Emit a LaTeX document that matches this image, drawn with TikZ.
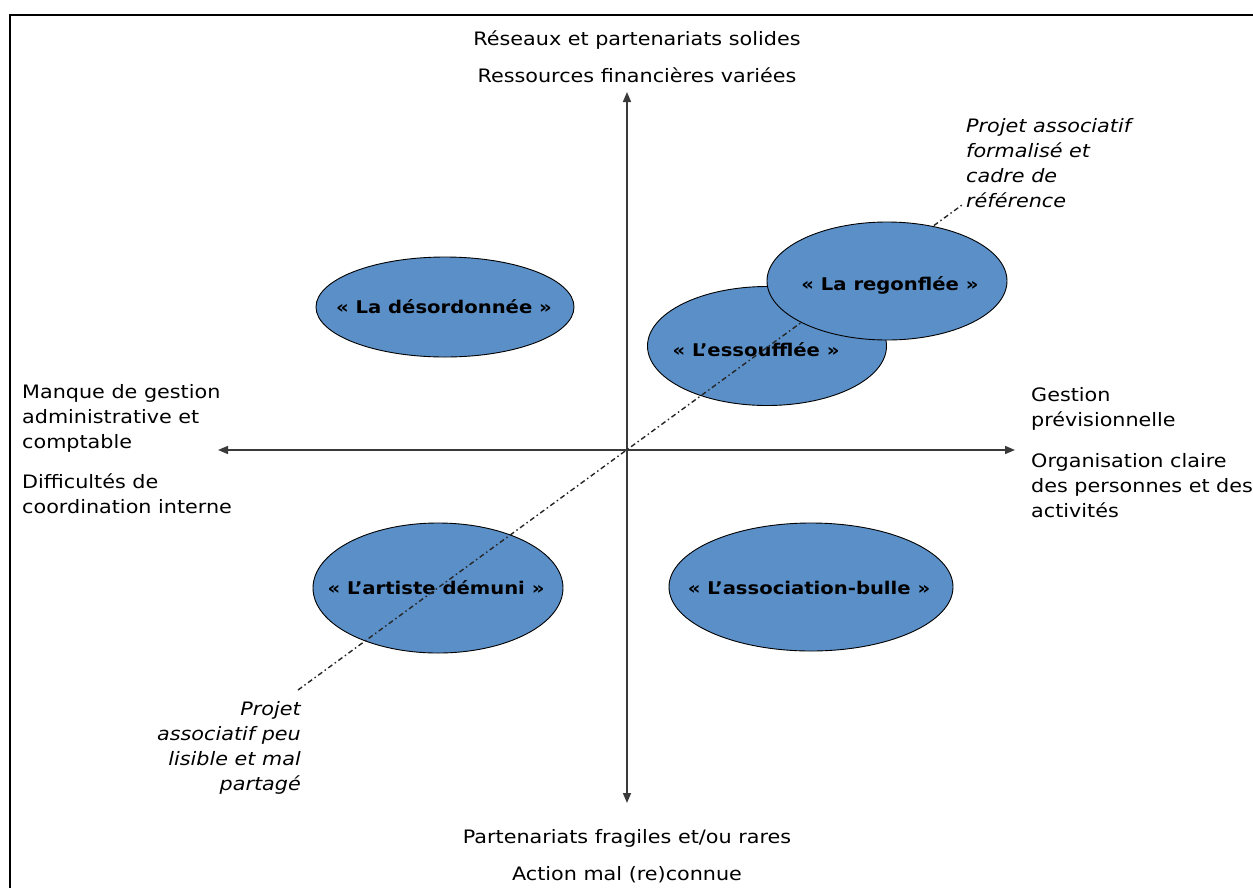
\documentclass[tikz,border=0pt]{standalone}
\usepackage{fontspec}
\setmainfont{DejaVu Sans}[FakeStretch=1.12]
\usetikzlibrary{arrows.meta,shapes.geometric}
\definecolor{ellfill}{HTML}{5B8FC7}
\definecolor{axisgray}{HTML}{3A3A3A}
\begin{document}
\begin{tikzpicture}[x=1pt,y=-1pt,
  txt/.style={font=\fontsize{18.5}{25}\selectfont, inner sep=0pt},
  itxt/.style={font=\fontsize{18.5}{25}\selectfont\itshape, inner sep=0pt},
  lbl/.style={font=\fontsize{17.5}{25}\selectfont\bfseries, inner sep=0pt},
  ell/.style={ellipse, draw=black, line width=0.9pt, fill=ellfill, inner sep=0pt},
  axis/.style={draw=axisgray, line width=1.6pt, {Triangle[length=10pt,width=8pt]}-{Triangle[length=10pt,width=8pt]}},
  diag/.style={draw=black!85, line width=1.4pt, dash pattern=on 5pt off 3pt on 1.5pt off 3pt}
]
\useasboundingbox (0,0) rectangle (1253,887);
\fill[white] (0,0) rectangle (1253,887);
% frame
\draw[line width=2.6pt] (1260,15) -- (10,15) -- (10,895);

% axes
\coordinate (vt) at (627,92);
\coordinate (vb) at (627,803);
\coordinate (hl) at (218,450);
\coordinate (hr) at (1015,450);
\draw[axis] (vb) -- (vt);
\draw[axis] (hl) -- (hr);

% ellipses
\node[ell, minimum width=258pt, minimum height=100pt] (des) at (445,307) {};
\node[lbl] (des-t) at (444,307) {« La désordonnée »};
\node[ell, minimum width=239pt, minimum height=119pt] (ess) at (767,346) {};
\node[lbl] (ess-t) at (756,350) {« L’essoufflée »};
\node[ell, minimum width=250pt, minimum height=130pt] (art) at (438,588) {};
\node[lbl] (art-t) at (436,588) {« L’artiste démuni »};
\node[ell, minimum width=284pt, minimum height=128pt] (bul) at (811,587) {};
\node[lbl] (bul-t) at (809,588) {« L’association-bulle »};

% diagonal
\coordinate (dl) at (298,690);
\coordinate (dr) at (962,205);
\draw[diag] (dl) -- (dr);

\node[ell, minimum width=240pt, minimum height=118pt] (reg) at (887,281) {};
\node[lbl] (reg-t) at (890,285) {« La regonflée »};

% axis texts
\node[txt, anchor=base] (top1) at (637,45) {Réseaux et partenariats solides};
\node[txt, anchor=base] (top2) at (637,82) {Ressources financières variées};
\node[txt, anchor=base] (bot1) at (627,843) {Partenariats fragiles et/ou rares};
\node[txt, anchor=base] (bot2) at (627,880) {Action mal (re)connue};

\node[txt, anchor=base west, align=left] (left1) at (22,448) {Manque de gestion\\administrative et\\comptable};
\node[txt, anchor=base west, align=left] (left2) at (22,513) {Difficultés de\\coordination interne};
\node[txt, anchor=base west, align=left] (right1) at (1031,426) {Gestion\\prévisionnelle};
\node[txt, anchor=base west, align=left] (right2) at (1031,517) {Organisation claire\\des personnes et des\\activités};

\node[itxt, anchor=base west, align=left] (pa-hi) at (966,207) {Projet associatif\\formalisé et\\cadre de\\référence};
\node[itxt, anchor=base east, align=right] (pa-lo) at (301,790) {Projet\\associatif peu\\lisible et mal\\partagé};
\end{tikzpicture}
\end{document}
